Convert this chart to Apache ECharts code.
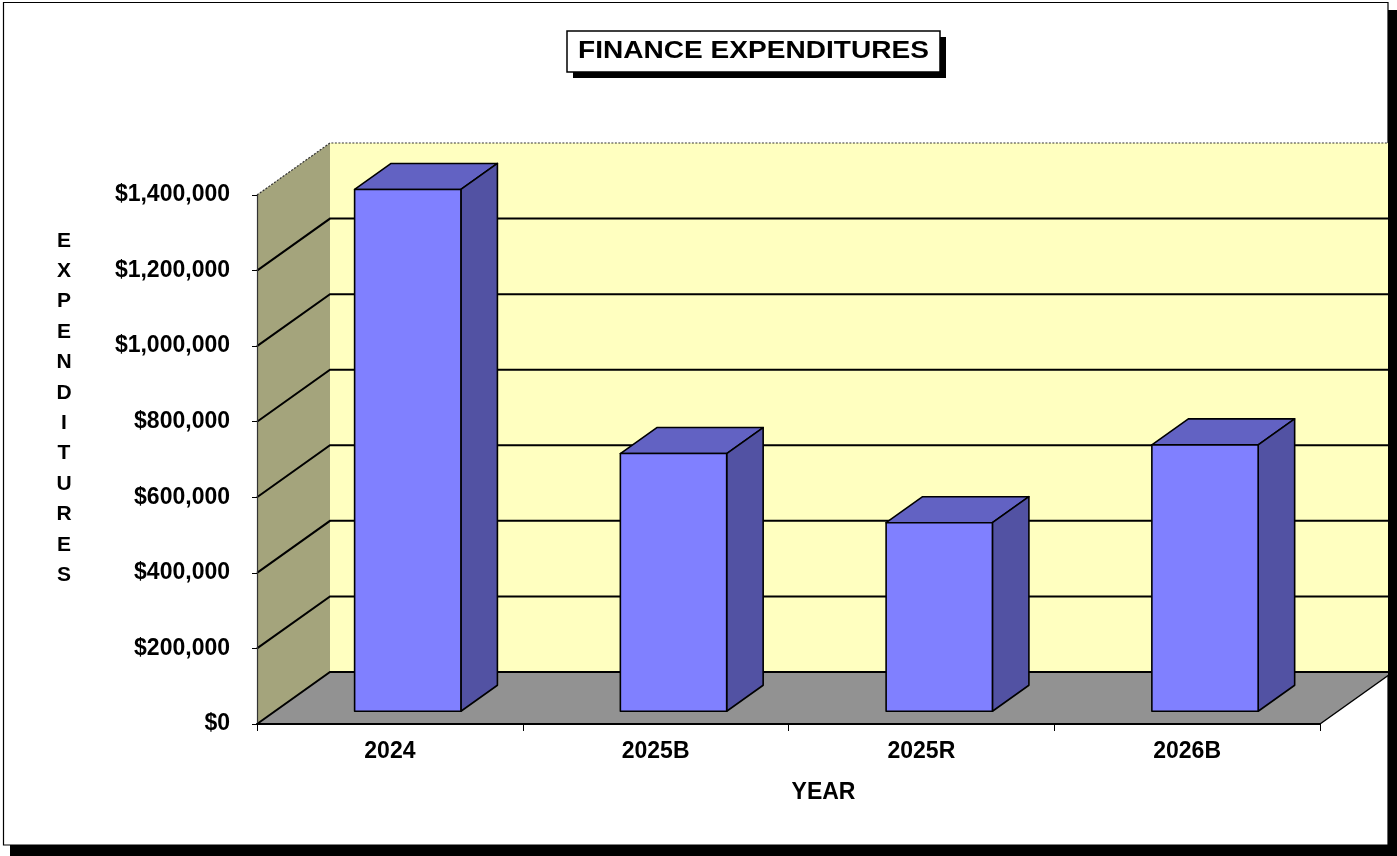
<!DOCTYPE html>
<html>
<head>
<meta charset="utf-8">
<script src="https://cdn.jsdelivr.net/npm/echarts@6/dist/echarts.min.js"></script>
<style>
  html, body { margin: 0; padding: 0; background: #fff; }
  #chart { width: 1397px; height: 856px; }
</style>
</head>
<body>
<div id="chart"></div>
<script>
// ---- data ----
const categories = ['2024', '2025B', '2025R', '2026B'];
const expenditures = [1381000, 682000, 499000, 705000];
const yTicks = [0, 200000, 400000, 600000, 800000, 1000000, 1200000, 1400000];
const chartTitle = 'FINANCE EXPENDITURES';
const xAxisTitle = 'YEAR';
const yAxisTitle = 'EXPENDITURES';

// ---- styling / 3D projection ----
const FONT = '"Liberation Sans", Arial, Helvetica, sans-serif';
const DX = 73, DY = -52;            // oblique depth vector of the plot box
const BAR_FRONT = 0.245, BAR_BACK = 0.745; // bar position within the depth
const BAR_WIDTH = 0.4;              // share of each category band
const COLORS = {
  backWall: '#FFFFC0', sideWall: '#A4A47C', floor: '#929292',
  barFront: '#8080FF', barTop: '#6262C3', barSide: '#5252A3'
};

const fmtMoney = v => '$' + Number(v).toLocaleString('en-US');

// walls, floor and gridlines of the 3D plot box
function renderWalls(params, api) {
  const cs = params.coordSys;
  const x0 = cs.x, x1 = cs.x + cs.width;
  const yb = api.coord([0, yTicks[0]])[1];
  const yt = api.coord([0, yTicks[yTicks.length - 1]])[1];
  const kids = [
    { type: 'polygon', shape: { points: [[x0, yb], [x0 + DX, yb + DY], [x1 + DX, yb + DY], [x1, yb]] },
      style: { fill: COLORS.floor } },
    { type: 'polygon', shape: { points: [[x0, yb], [x0, yt], [x0 + DX, yt + DY], [x0 + DX, yb + DY]] },
      style: { fill: COLORS.sideWall } },
    { type: 'rect', shape: { x: x0 + DX, y: yt + DY, width: x1 - x0, height: yb - yt },
      style: { fill: COLORS.backWall } }
  ];
  yTicks.forEach((t, k) => {
    const y = api.coord([0, t])[1];
    const isTop = k === yTicks.length - 1;
    kids.push({
      type: 'polyline',
      shape: { points: [[x0, y], [x0 + DX, y + DY], [x1 + DX, y + DY]] },
      style: { stroke: isTop ? '#333' : '#000', lineWidth: isTop ? 1.2 : 2,
               lineDash: isTop ? [2, 1.5] : null, fill: null }
    });
  });
  kids.push({ type: 'line', shape: { x1: x1, y1: yb, x2: x1 + DX, y2: yb + DY },
              style: { stroke: '#000', lineWidth: 1.5 } });
  return { type: 'group', children: kids };
}

// one 3D column: front face, top and right side
function renderBar(params, api) {
  const i = api.value(0), v = api.value(1);
  const band = api.size([1, 0])[0];
  const base = api.coord([i, 0]);
  const top = api.coord([i, v]);
  const w = band * BAR_WIDTH;
  const fx = DX * BAR_FRONT, fy = DY * BAR_FRONT;
  const bx = DX * (BAR_BACK - BAR_FRONT), by = DY * (BAR_BACK - BAR_FRONT);
  const L = base[0] - w / 2 + fx, R = base[0] + w / 2 + fx;
  const B = base[1] + fy, T = top[1] + fy;
  const edge = { stroke: '#000', lineWidth: 1.6, lineJoin: 'round' };
  return {
    type: 'group',
    children: [
      { type: 'polygon', shape: { points: [[L, T], [L + bx, T + by], [R + bx, T + by], [R, T]] },
        style: Object.assign({ fill: COLORS.barTop }, edge) },
      { type: 'polygon', shape: { points: [[R, T], [R + bx, T + by], [R + bx, B + by], [R, B]] },
        style: Object.assign({ fill: COLORS.barSide }, edge) },
      { type: 'rect', shape: { x: L, y: T, width: R - L, height: B - T },
        style: Object.assign({ fill: COLORS.barFront }, edge) }
    ]
  };
}

const chart = echarts.init(document.getElementById('chart'), null, { renderer: 'canvas' });

chart.setOption({
  backgroundColor: '#fff',
  animation: false,
  grid: { left: 257, right: 77, top: 195, bottom: 132 },
  xAxis: {
    type: 'category',
    data: categories,
    boundaryGap: true,
    z: 10,
    axisLine: { show: true, lineStyle: { color: '#000', width: 2 } },
    axisTick: { show: true, length: 7, lineStyle: { color: '#000', width: 1 } },
    axisLabel: { color: '#000', fontFamily: FONT, fontWeight: 'bold', fontSize: 23, margin: 16 },
    splitLine: { show: false },
    name: xAxisTitle,
    nameLocation: 'middle',
    nameGap: 57,
    nameTextStyle: { color: '#000', fontFamily: FONT, fontWeight: 'bold', fontSize: 23,
                     align: 'center', padding: [0, 0, 0, 70] }
  },
  yAxis: {
    type: 'value',
    min: 0, max: 1400000, interval: 200000,
    z: 10,
    axisLine: { show: true, lineStyle: { color: '#333', width: 1.2 } },
    axisTick: { show: true, length: 5, lineStyle: { color: '#000', width: 1 } },
    axisLabel: { color: '#000', fontFamily: FONT, fontWeight: 'bold', fontSize: 23, margin: 27,
                 formatter: fmtMoney },
    splitLine: { show: false }
  },
  series: [
    {
      type: 'custom', name: 'plot box', silent: true, z: 1,
      renderItem: renderWalls,
      data: [[0, 0]]
    },
    {
      type: 'custom', name: 'Expenditures', z: 3,
      renderItem: renderBar,
      data: expenditures.map((v, i) => [i, v])
    }
  ],
  graphic: [
    // chart frame and its drop shadow
    { type: 'rect', z: -5, silent: true,
      shape: { x: 3.5, y: 2.5, width: 1384.5, height: 842.5 },
      style: { fill: '#fff', stroke: '#000', lineWidth: 1.2 } },
    { type: 'rect', z: 100, silent: true,
      shape: { x: 1388, y: 10, width: 20, height: 860 }, style: { fill: '#000' } },
    { type: 'rect', z: 100, silent: true,
      shape: { x: 10, y: 845, width: 1400, height: 20 }, style: { fill: '#000' } },
    // stacked-letter value axis title
    { type: 'text', z: 50, silent: true,
      x: 64, y: 408,
      style: { text: yAxisTitle.split('').join('\n'), fill: '#000', font: 'bold 21px ' + FONT,
               lineHeight: 30.4, align: 'center', verticalAlign: 'middle' } },
    // boxed title with shadow
    { type: 'rect', z: 100, silent: true,
      shape: { x: 573, y: 37, width: 373, height: 41 }, style: { fill: '#000' } },
    { type: 'rect', z: 101, silent: true,
      shape: { x: 567, y: 31, width: 373, height: 41 },
      style: { fill: '#fff', stroke: '#000', lineWidth: 1.5 } },
    { type: 'text', z: 102, silent: true,
      x: 753.5, y: 51.5, scaleX: 1.22,
      style: { text: chartTitle, fill: '#000', font: 'bold 23px ' + FONT,
               align: 'center', verticalAlign: 'middle' } }
  ]
});
</script>
</body>
</html>
